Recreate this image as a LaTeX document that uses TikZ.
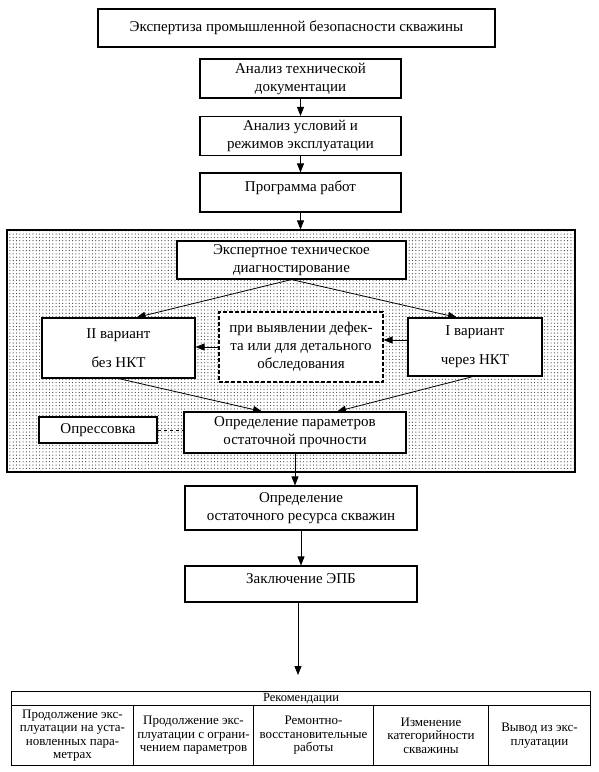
\documentclass[tikz,border=0pt]{standalone}
\usepackage{fontspec}
\setmainfont{Liberation Serif}
\usetikzlibrary{arrows.meta, patterns}
\pgfdeclarepatternformonly{finedots}{\pgfpoint{-1pt}{-1pt}}{\pgfpoint{1pt}{1pt}}{\pgfpoint{3.3pt}{3.3pt}}{
	\pgfpathcircle{\pgfpointorigin}{0.6pt}
	\pgfusepath{fill}
}
\tikzset{
	box/.style = {draw, fill=white, line width=1.1pt, align=center, inner sep=2pt,
		font=\fontsize{15}{18}\selectfont},
	boldbox/.style = {box, line width=1.8pt},
	dashbox/.style = {box, dash pattern=on 4pt off 2pt},
	cell/.style = {draw, line width=1pt, align=center, inner sep=1pt, anchor=north west,
		minimum height=60pt, font=\fontsize{13}{13.4}\selectfont},
	flow/.style = {-{Triangle[length=9pt, width=7pt]}, line width=0.8pt}
}

\begin{document}
\begin{tikzpicture}[x=1pt, y=-1pt]
	\useasboundingbox (0,0) rectangle (599,772);
	% upper chain
	\node[boldbox, minimum width=397pt, minimum height=38pt] (expert) at (296.5,28) {Экспертиза промышленной безопасности скважины};
	\node[box, minimum width=201pt, minimum height=39pt] (tdoc) at (300.5,78.5) {Анализ технической\\документации};
	\node[box, minimum width=201pt, minimum height=39pt] (modes) at (300.5,136) {Анализ условий и\\режимов эксплуатации};
	\node[box, minimum width=201pt, minimum height=39pt, text depth=12pt] (prog) at (300.5,192.5) {Программа работ};
	\draw[flow] (tdoc) -- (modes);
	\draw[flow] (modes) -- (prog);
	% dotted block of diagnostics
	\node[draw, line width=1.2pt, pattern=finedots, pattern color=black!75,
		minimum width=568pt, minimum height=242pt] (zone) at (291,351) {};
	\draw[flow] (prog.south) -- (prog.south |- zone.north);
	\node[box, minimum width=229pt, minimum height=38pt] (diag) at (291.5,260) {Экспертное техническое\\диагностирование};
	\node[box, minimum width=153pt, minimum height=60pt] (var2) at (118.5,348) {II вариант\\[11pt]без НКТ};
	\node[dashbox, minimum width=164pt, minimum height=70pt] (defect) at (301,347) {при выявлении дефек-\\та или для детального\\обследования};
	\node[box, minimum width=134pt, minimum height=58pt] (var1) at (475,347) {I вариант\\[11pt]через НКТ};
	\node[boldbox, minimum width=118pt, minimum height=26pt] (press) at (98,430) {Опрессовка};
	\node[box, minimum width=222pt, minimum height=41pt] (param) at (295,432.5) {Определение параметров\\остаточной прочности};
	\draw[flow] (diag.south) -- ([xshift=18pt]var2.north);
	\draw[flow] (diag.south) -- ([xshift=-18pt]var1.north);
	\draw[flow] (defect.west) -- (defect.west -| var2.east);
	\draw[flow] ([yshift=7pt]var1.west) -- ([yshift=7pt]var1.west -| defect.east);
	\draw[flow] (var2.south) -- ([xshift=-33pt]param.north);
	\draw[flow] ([xshift=-2pt]var1.south) -- ([xshift=42pt]param.north);
	\draw[line width=0.8pt, dashed] (press.east) -- (press.east -| param.west);
	% lower chain
	\node[box, minimum width=232pt, minimum height=44pt] (resource) at (301,508) {Определение\\остаточного ресурса скважин};
	\node[box, minimum width=232pt, minimum height=36pt, text depth=11pt] (verdict) at (301,584) {Заключение ЭПБ};
	\coordinate (recs-in) at (298,675);
	\draw[flow] (param.south) -- (param.south |- resource.north);
	\draw[flow] (resource) -- (verdict);
	\draw[flow] (verdict.south -| recs-in) -- (recs-in);
	% recommendations table
	\node[cell, minimum width=579pt, minimum height=14pt, font=\fontsize{12.5}{13}\selectfont] (recs) at (11,691) {Рекомендации};
	\foreach \x/\w/\txt [count=\n] in {
		11/122/{Продолжение экс-\\плуатации на уста-\\новленных пара-\\метрах},
		133/120/{Продолжение экс-\\плуатации с ограни-\\чением параметров},
		253/120/{Ремонтно-\\восстановительные\\работы},
		373/115/{Изменение\\категорийности\\скважины},
		488/102/{Вывод из экс-\\плуатации}} {
		\node[cell, minimum width=\w pt] (rec\n) at (\x,705) {\txt};
	}
\end{tikzpicture}
\end{document}
